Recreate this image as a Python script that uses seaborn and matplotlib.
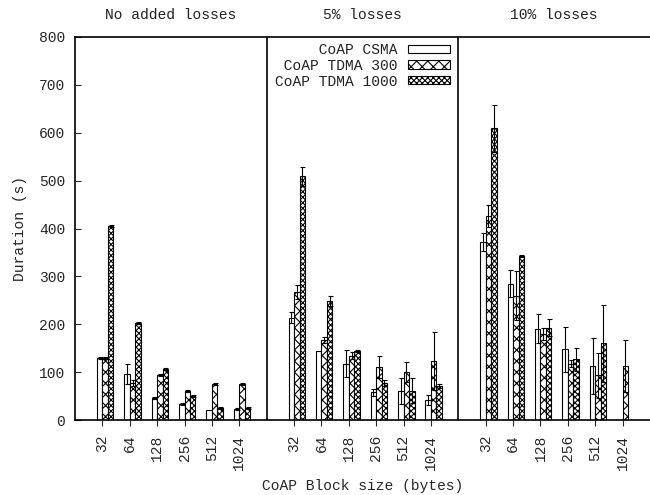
import matplotlib
matplotlib.use("Agg")
import matplotlib.pyplot as plt
import pandas as pd
import seaborn as sns

groups = ["No added losses", "5% losses", "10% losses"]
block_sizes = ["32", "64", "128", "256", "512", "1024"]
series = ["CoAP CSMA", "CoAP TDMA 300", "CoAP TDMA 1000"]

# durations (s), block sizes in order, for no losses / 5% / 10%
csma_mean = [129, 96, 45, 33, 20, 23,
             214, 144, 118, 58, 61, 42,
             372, 285, 191, 148, 113, 0]
csma_err = [2, 20, 2, 2, 0, 2,
            12, 0, 28, 7, 27, 11,
            19, 28, 31, 47, 58, 0]
tdma300_mean = [129, 78, 94, 61, 75, 75,
                267, 167, 134, 111, 100, 123,
                427, 260, 180, 118, 93, 113]
tdma300_err = [2, 6, 2, 2, 2, 2,
               14, 7, 7, 23, 21, 60,
               23, 51, 12, 8, 47, 54]
tdma1000_mean = [405, 202, 107, 51, 26, 26,
                 509, 248, 145, 77, 61, 71,
                 609, 343, 193, 127, 160, 0]
tdma1000_err = [2, 2, 2, 2, 2, 2,
                20, 10, 2, 6, 26, 5,
                49, 2, 17, 24, 80, 0]

hatches = ["", "xxx", "xxxxxx"]

# 6 block sizes per group, one empty slot between groups
tick_pos = [g * 7 + i for g in range(len(groups)) for i in range(len(block_sizes))]

rows = []
for name, means, errs in zip(series, [csma_mean, tdma300_mean, tdma1000_mean],
                             [csma_err, tdma300_err, tdma1000_err]):
    for pos, m, e in zip(tick_pos, means, errs):
        rows.append({"pos": pos + 0.1, "series": name, "duration": m, "err": e})
df = pd.DataFrame(rows)

sns.set_style("ticks")
plt.rcParams["font.family"] = ["Liberation Mono", "DejaVu Sans Mono"]
plt.rcParams["font.size"] = 10.5
plt.rcParams["text.color"] = "#222222"
plt.rcParams["hatch.linewidth"] = 0.8

fig = plt.figure(figsize=(6.5, 4.95), dpi=100)
ax = fig.add_axes([75 / 650, 75 / 495, (650 - 75) / 650, (420 - 37) / 495])

sns.barplot(data=df, x="pos", y="duration", hue="series", hue_order=series,
            native_scale=True, width=0.6, dodge=True, errorbar=None,
            palette=["white"] * 3, saturation=1, edgecolor="black",
            linewidth=0.8, legend=False, ax=ax)

for container, hatch, name in zip(ax.containers, hatches, series):
    errs = df.loc[df["series"] == name, "err"].to_numpy()
    for bar, e in zip(container.patches, errs):
        bar.set_hatch(hatch)
        if e > 0:
            ax.errorbar(bar.get_x() + bar.get_width() / 2, bar.get_height(), yerr=e,
                        fmt="none", ecolor="black", elinewidth=0.8, capsize=1.8,
                        capthick=0.8, zorder=3)

for g in range(1, len(groups)):
    ax.axvline(g * 7 - 1, color="black", lw=1.2)

for g, name in enumerate(groups):
    ax.text(g * 7 + 2.5, 1.057, name, transform=ax.get_xaxis_transform(),
            ha="center", va="center")

ax.set_xlim(-1, 20)
ax.set_ylim(0, 800)
ax.set_xticks(tick_pos)
ax.set_xticklabels(block_sizes * len(groups), rotation=90)
ax.set_yticks(range(0, 801, 100))
ax.tick_params(axis="x", direction="out", length=4.5, width=0.8, pad=6)
ax.tick_params(axis="y", direction="in", length=4, width=0.8, pad=7)
for spine in ax.spines.values():
    spine.set_visible(True)
    spine.set_linewidth(1.2)
    spine.set_color("black")
ax.spines["right"].set_visible(False)

ax.set_xlabel("CoAP Block size (bytes)", labelpad=7)
ax.set_ylabel("Duration (s)", labelpad=9)

# monospace font: pad labels so they line up on the right like the original key
width = max(len(s) for s in series)
ax.legend(handles=ax.containers, labels=[s.rjust(width) for s in series],
          loc="upper right", bbox_to_anchor=(450 / 650, (495 - 43) / 495),
          bbox_transform=fig.transFigure, frameon=False, markerfirst=False,
          handlelength=2.9, handleheight=0.5, handletextpad=0.7,
          labelspacing=0.12, borderpad=0, borderaxespad=0)

fig.savefig("out.png", dpi=100)
